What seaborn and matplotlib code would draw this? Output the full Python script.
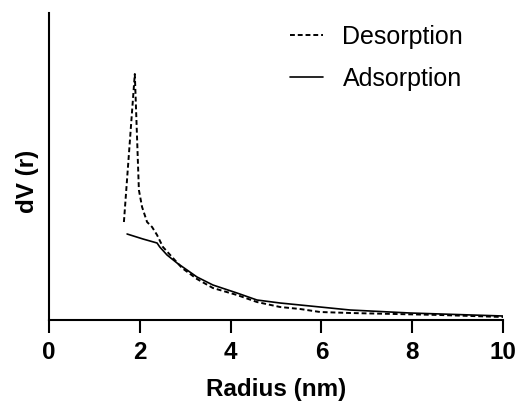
import matplotlib
matplotlib.use("Agg")
import matplotlib.pyplot as plt
import seaborn as sns
import pandas as pd

# Pore size distribution (BJH), arbitrary dV units
des_radius = [1.65, 1.89, 1.98, 2.05, 2.16, 2.27, 2.38, 2.51, 2.71, 2.93,
              3.26, 3.61, 4.14, 4.58, 5.09, 5.53, 5.97, 6.63, 8.61, 10.0]
des_dv = [0.98, 2.46, 1.30, 1.13, 0.98, 0.93, 0.85, 0.73, 0.63, 0.52,
          0.41, 0.32, 0.25, 0.18, 0.13, 0.11, 0.08, 0.07, 0.05, 0.03]

ads_radius = [1.72, 2.07, 2.38, 2.44, 2.60, 2.82, 3.04, 3.26, 3.61, 4.14,
              4.58, 5.09, 5.97, 6.63, 7.95, 10.0]
ads_dv = [0.86, 0.81, 0.77, 0.73, 0.65, 0.57, 0.50, 0.43, 0.35, 0.27,
          0.20, 0.17, 0.13, 0.10, 0.07, 0.04]

x_ticks = [0, 2, 4, 6, 8, 10]

sns.set_style("ticks")
plt.rcParams["font.family"] = ["Liberation Sans", "DejaVu Sans"]
plt.rcParams["text.color"] = "black"
plt.rcParams["axes.labelcolor"] = "black"
plt.rcParams["xtick.color"] = "black"
plt.rcParams["ytick.color"] = "black"

fig = plt.figure(figsize=(5.26, 4.07), dpi=100)
ax = fig.add_axes([49 / 526, 87 / 407, 454 / 526, 307 / 407])

des = pd.DataFrame({"Radius": des_radius, "dV": des_dv})
ads = pd.DataFrame({"Radius": ads_radius, "dV": ads_dv})

sns.lineplot(data=des, x="Radius", y="dV", ax=ax, color="black", lw=1.4,
             linestyle=(0, (2.5, 1.5)), label="Desorption", sort=False)
sns.lineplot(data=ads, x="Radius", y="dV", ax=ax, color="black", lw=1.2,
             label="Adsorption", sort=False)

ax.set_xlim(0, 10)
ax.set_ylim(0, 3.07)
ax.set_xticks(x_ticks)
ax.set_xticklabels([str(t) for t in x_ticks], fontsize=17.5, fontweight="bold")
ax.set_yticks([])
ax.tick_params(axis="x", length=9, width=1.5, pad=6, color="black",
               labelcolor="black")

for side in ("top", "right"):
    ax.spines[side].set_visible(False)
for side in ("left", "bottom"):
    ax.spines[side].set_linewidth(1.5)
    ax.spines[side].set_color("black")

ax.set_xlabel("Radius (nm)", fontsize=17.5, fontweight="bold", labelpad=10)
ax.set_ylabel("dV (r)", fontsize=17.5, fontweight="bold")
ax.yaxis.set_label_coords(-0.022, 0.453)

leg = ax.legend(loc="upper left", bbox_to_anchor=(290 / 526, 1 - 25 / 407),
                bbox_transform=fig.transFigure, frameon=False, fontsize=18,
                handlelength=1.3, handletextpad=0.8, labelspacing=0.72,
                borderpad=0, borderaxespad=0)

fig.savefig("out.png", dpi=100)
